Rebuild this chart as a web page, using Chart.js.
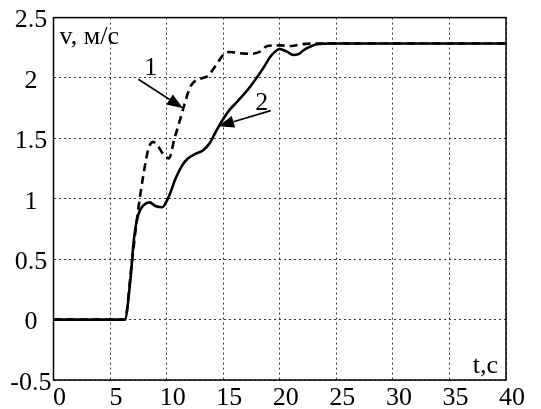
<!DOCTYPE html>
<html>
<head>
<meta charset="utf-8">
<script src="https://cdn.jsdelivr.net/npm/chart.js@4/dist/chart.umd.min.js"></script>
<style>html,body{margin:0;padding:0;background:#fff}</style>
</head>
<body>
<canvas id="c" width="541" height="409"></canvas>
<script>
// curve 1 (dashed) and curve 2 (solid): t in s, v in m/s
const t1 = [0, 6.3, 6.9, 7.4, 7.95, 8.4, 8.8, 9.2, 9.7, 10.2, 10.7, 11.2, 11.6, 12.1, 12.6, 13.2, 13.7, 14.1, 14.6, 15.1, 15.6, 16.5, 17.4, 18.3, 18.9, 20.0, 21.0, 22.0, 23.3, 25, 30, 35, 40];
const v1 = [0, 0, 0.45, 0.85, 1.2, 1.416, 1.47, 1.44, 1.37, 1.335, 1.5, 1.66, 1.79, 1.93, 1.98, 2.0, 2.02, 2.07, 2.14, 2.2, 2.215, 2.205, 2.2, 2.22, 2.265, 2.27, 2.265, 2.28, 2.285, 2.285, 2.285, 2.285, 2.285];
const t2 = [0, 6.3, 6.8, 7.1, 7.5, 8.0, 8.5, 9.0, 9.6, 10.2, 10.8, 11.4, 11.9, 12.5, 13.2, 13.8, 14.4, 15.0, 15.6, 16.2, 17.4, 18.6, 19.2, 20.0, 20.6, 21.2, 21.7, 22.1, 22.7, 23.3, 24.5, 30, 35, 40];
const v2 = [0, 0, 0.33, 0.66, 0.87, 0.95, 0.97, 0.94, 0.93, 1.02, 1.17, 1.28, 1.335, 1.37, 1.40, 1.46, 1.565, 1.66, 1.74, 1.80, 1.93, 2.09, 2.18, 2.24, 2.22, 2.19, 2.2, 2.23, 2.26, 2.28, 2.285, 2.285, 2.285, 2.285];

const xTicks = ['0', '5', '10', '15', '20', '25', '30', '35', '40'];
const yTicks = ['-0.5', '0', '0.5', '1', '1.5', '2', '2.5'];
const curveNames = ['1', '2'];
const yTitle = 'v, м/с';
const xTitle = 't,с';

// annotation anchors in data units (t, v)
const nameAt = [[8.6, 2.08], [18.4, 1.79]];
const arrowFrom = [[7.5, 1.99], [19.2, 1.73]];
const arrowTo = [[11.45, 1.75], [14.55, 1.60]];

const FONT = "'Liberation Serif', 'Times New Roman', serif";

const pts = (ts, vs) => ts.map((t, i) => ({x: t, y: vs[i]}));

const overlay = {
  id: 'overlay',
  afterDatasetsDraw(chart) {
    const {ctx, chartArea: a, scales: {x, y}} = chart;
    ctx.save();
    ctx.strokeStyle = '#000';
    ctx.lineWidth = 1.5;
    ctx.setLineDash([]);
    ctx.strokeRect(a.left, a.top, a.right - a.left, a.bottom - a.top);

    ctx.fillStyle = '#000';
    ctx.font = '26px ' + FONT;
    ctx.textBaseline = 'alphabetic';
    ctx.textAlign = 'left';
    ctx.fillText(yTitle, a.left + 6, y.getPixelForValue(2.28));
    ctx.textAlign = 'right';
    ctx.fillText(xTitle, x.getPixelForValue(39.3), y.getPixelForValue(-0.443));

    ctx.textAlign = 'center';
    ctx.textBaseline = 'middle';
    curveNames.forEach((n, i) => {
      ctx.fillText(n, x.getPixelForValue(nameAt[i][0]), y.getPixelForValue(nameAt[i][1]));
    });

    ctx.lineWidth = 1.6;
    arrowFrom.forEach((f, i) => {
      const x0 = x.getPixelForValue(f[0]), y0 = y.getPixelForValue(f[1]);
      const x1 = x.getPixelForValue(arrowTo[i][0]), y1 = y.getPixelForValue(arrowTo[i][1]);
      const ang = Math.atan2(y1 - y0, x1 - x0);
      const len = 16, half = 6;
      const bx = x1 - len * Math.cos(ang), by = y1 - len * Math.sin(ang);
      ctx.beginPath();
      ctx.moveTo(x0, y0);
      ctx.lineTo(bx, by);
      ctx.stroke();
      ctx.beginPath();
      ctx.moveTo(x1, y1);
      ctx.lineTo(bx + half * Math.sin(ang), by - half * Math.cos(ang));
      ctx.lineTo(bx - half * Math.sin(ang), by + half * Math.cos(ang));
      ctx.closePath();
      ctx.fill();
    });
    ctx.restore();
  }
};

new Chart(document.getElementById('c'), {
  type: 'line',
  data: {
    datasets: [
      {label: curveNames[0], data: pts(t1, v1), borderColor: '#000', borderWidth: 2.6, borderDash: [8, 5], pointRadius: 0, cubicInterpolationMode: 'monotone', fill: false},
      {label: curveNames[1], data: pts(t2, v2), borderColor: '#000', borderWidth: 2.6, pointRadius: 0, cubicInterpolationMode: 'monotone', fill: false}
    ]
  },
  options: {
    responsive: false,
    animation: false,
    devicePixelRatio: 1,
    layout: {padding: {top: 10, right: 35, left: 0, bottom: 0}},
    plugins: {legend: {display: false}, tooltip: {enabled: false}},
    scales: {
      x: {
        type: 'linear', min: 0, max: 40,
        afterFit: s => { s.height = 29; },
        afterBuildTicks: s => { s.ticks = xTicks.map(v => ({value: +v})); },
        ticks: {callback: (v) => xTicks[xTicks.indexOf(String(v))], color: '#000', font: {family: FONT, size: 26}, padding: 3, maxRotation: 0, autoSkip: false, labelOffset: 6},
        grid: {color: '#333', lineWidth: 1, drawTicks: false},
        border: {display: false, dash: [2, 3]}
      },
      y: {
        type: 'linear', min: -0.5, max: 2.5,
        afterFit: s => { s.width = 53.5; },
        afterBuildTicks: s => { s.ticks = yTicks.map(v => ({value: +v})); },
        ticks: {callback: (v) => yTicks[yTicks.indexOf(String(v))], color: '#000', font: {family: FONT, size: 26}, padding: 2, crossAlign: 'center', autoSkip: false, labelOffset: 3},
        grid: {color: '#333', lineWidth: 1, drawTicks: false},
        border: {display: false, dash: [2, 3]}
      }
    }
  },
  plugins: [overlay]
});
</script>
</body>
</html>
